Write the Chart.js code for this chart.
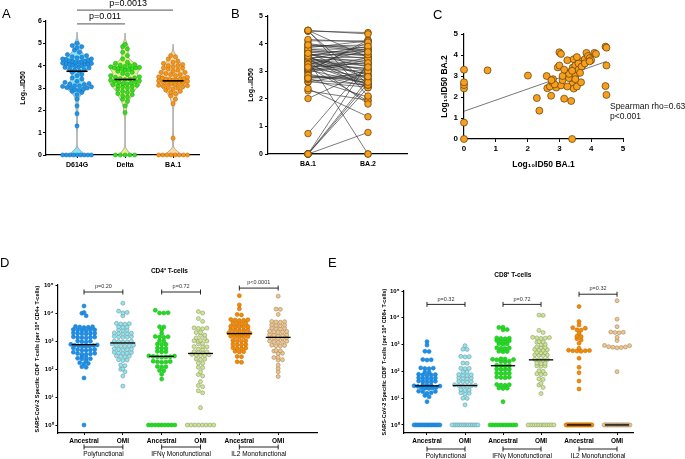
<!DOCTYPE html>
<html>
<head>
<meta charset="utf-8">
<script src="https://cdn.jsdelivr.net/npm/chart.js@4.4.1/dist/chart.umd.min.js"></script>
<style>
body { margin: 0; background: #fff; }
#wrap { position: relative; width: 685px; height: 459px; overflow: hidden; font-family: 'Liberation Sans', Arial, sans-serif; }
canvas { position: absolute; }
.lt { position: absolute; font-size: 13px; line-height: 13px; color: #000; }
</style>
</head>
<body>
<div id="wrap">
  <canvas id="cA" width="215" height="175" style="left:0;top:0"></canvas>
  <canvas id="cB" width="215" height="175" style="left:215px;top:0"></canvas>
  <canvas id="cC" width="255" height="175" style="left:430px;top:0"></canvas>
  <canvas id="cD" width="340" height="209" style="left:0;top:250px"></canvas>
  <canvas id="cE" width="345" height="209" style="left:340px;top:250px"></canvas>
  <div class="lt" style="left:2px;top:7px">A</div>
  <div class="lt" style="left:231px;top:7px">B</div>
  <div class="lt" style="left:433px;top:8px">C</div>
  <div class="lt" style="left:0;top:256px">D</div>
  <div class="lt" style="left:328px;top:256px">E</div>
</div>
<script>
// ---- panel A: log10 ID50 by variant
var variantsA = ['D614G', 'Delta', 'BA.1'];
var id50D614G = [0, 0, 0, 0, 0, 0, 0, 0, 0, 1.3, 1.85, 2.2, 2.5, 2.7,
  2.8, 2.85, 2.9, 2.92, 2.95, 3.0, 3.0, 3.02, 3.05, 3.07, 3.1, 3.1, 3.15, 3.17, 3.2, 3.25,
  3.3, 3.4, 3.45, 3.55, 3.6, 3.7,
  3.75, 3.8, 3.82, 3.85, 3.9, 3.92, 3.95, 3.98, 4.0, 4.02, 4.05, 4.05, 4.08, 4.1, 4.1, 4.12,
  4.15, 4.15, 4.18, 4.2, 4.2, 4.22, 4.25, 4.28, 4.3, 4.3, 4.35, 4.38, 4.4, 4.45, 4.5,
  4.6, 4.7, 4.8, 4.85, 4.9, 5.0];
var id50Delta = [0, 0, 0, 0, 0, 1.9, 2.2, 2.4, 2.5, 2.6, 2.65, 2.7, 2.75, 2.8, 2.85, 2.9, 2.95,
  3.0, 3.05, 3.08, 3.1, 3.12, 3.15, 3.18, 3.2, 3.22, 3.25, 3.28, 3.3, 3.32, 3.35, 3.38, 3.4, 3.42,
  3.45, 3.48, 3.5, 3.55, 3.6, 3.65, 3.7, 3.75,
  3.8, 3.82, 3.85, 3.87, 3.88, 3.9, 3.9, 3.92, 3.95, 3.97, 4.0, 4.02, 4.05, 4.1, 4.15,
  4.3, 4.45, 4.6, 4.75, 4.85, 4.95];
var id50BA1 = [0, 0, 0, 0, 0, 0, 0, 0, 0.75, 2.3, 2.5, 2.65, 2.75, 2.8, 2.85, 2.9, 2.95,
  3.0, 3.02, 3.05, 3.08, 3.1, 3.12, 3.15, 3.18, 3.2, 3.22, 3.25, 3.28, 3.3, 3.32, 3.35, 3.35,
  3.38, 3.4, 3.4, 3.42, 3.45, 3.48, 3.5,
  3.55, 3.6, 3.6, 3.65, 3.7, 3.7, 3.75, 3.8, 3.85, 3.9, 3.9, 3.95, 4.0, 4.0, 4.05, 4.1, 4.15, 4.2, 4.3, 4.4, 4.45];
var pValuesA = ['p=0.011', 'p=0.0013'];

// ---- panels B and C: paired sera, BA.1 vs BA.2 (log10 ID50)
var pairLabels = ['BA.1', 'BA.2'];
var pairedBA1 = [0, 0, 0, 0, 0, 0, 0.74, 2.01, 2.29, 2.37, 2.6, 2.62, 2.7, 2.74, 2.78, 2.8, 2.9, 2.95,
  3.0, 3.0, 3.05, 3.05, 3.1, 3.15, 3.2, 3.25, 3.3, 3.35, 3.37, 3.4, 3.4, 3.42, 3.45, 3.45,
  3.5, 3.5, 3.55, 3.6, 3.68, 3.7, 3.75, 3.8, 3.85, 3.9, 3.95, 4.0, 4.1, 4.15,
  4.45, 4.48, 4.45, 4.48, 4.48, 3.3, 3.4, 3.5, 3.6, 3.7, 3.25,
  2.85, 3.1, 3.55, 3.8, 3.95, 2.75, 3.15, 3.65];
var pairedBA2 = [0, 0.78, 2.41, 2.57, 2.7, 3.3, 3.27, 3.02, 1.95, 1.35, 3.0, 2.42, 2.5, 2.06, 2.7, 2.85, 2.45, 3.41,
  3.5, 4.13, 4.05, 2.55, 2.8, 1.92, 3.1, 3.75, 2.9, 3.2, 1.81, 0, 2.6, 3.4, 3.8, 2.4,
  3.0, 3.5, 2.5, 3.3, 2.7, 3.7, 3.55, 3.8, 4.1, 3.95, 3.85, 3.75, 4.1, 4.05,
  4.4, 4.35, 2.52, 2.1, 3.5, 3.1, 3.25, 2.85, 3.6, 3.45, 2.5,
  2.6, 3.0, 3.9, 3.6, 3.7, 2.8, 3.3, 3.15];
var fitIntercept = 1.32;
var fitSlope = 0.53;
var spearmanText = ['Spearman rho=0.63', 'p<0.001'];

// ---- panels D and E: log10 SARS-CoV-2 specific T-cells per 10^6
var cellGroups = ['Ancestral', 'OMI', 'Ancestral', 'OMI', 'Ancestral', 'OMI'];
var functionNames = ['Polyfunctional', 'IFNγ Monofunctional', 'IL2 Monofunctional'];
var logTicks = [0, 1, 2, 3, 4, 5];

var cd4PolyAnc = [0, 1.68, 2.06, 2.08, 2.2, 2.22, 2.19, 2.3, 2.38, 2.36, 2.4, 2.37, 2.45, 2.54, 2.52, 2.55, 2.56, 2.53,
  2.6, 2.68, 2.7, 2.66, 2.69, 2.67, 2.75, 2.82, 2.84, 2.8, 2.83, 2.81, 2.85, 2.86, 2.88, 2.97, 3.0, 2.99, 2.96,
  3.13, 3.12, 3.14, 3.15, 3.11, 3.13, 3.27, 3.26, 3.28, 3.25, 3.29, 3.27, 3.39, 3.38, 3.4, 3.41, 3.37, 3.39,
  3.5, 3.49, 3.51, 3.48, 3.52, 3.9, 3.99, 4.02, 4.25];
var cd4PolyOmi = [1.39, 1.75, 1.9, 1.99, 2.0, 2.14, 2.12, 2.32, 2.3, 2.33, 2.46, 2.45, 2.47, 2.44, 2.58, 2.57, 2.6, 2.56, 2.59,
  2.7, 2.71, 2.69, 2.72, 2.68, 2.83, 2.82, 2.84, 2.81, 2.85, 2.9, 2.98, 2.97, 2.99, 3.0, 2.96,
  3.15, 3.14, 3.16, 3.13, 3.17, 3.27, 3.26, 3.28, 3.25, 3.29, 3.39, 3.38, 3.4, 3.51, 3.5, 3.49,
  3.63, 3.62, 3.61, 3.6, 3.9, 4.0, 4.02, 4.07, 4.35];
var cd4IfnAnc = [0, 0, 0, 0, 0, 0, 0, 0, 0, 1.64, 1.81, 1.94, 1.95, 2.08, 2.07, 2.09, 2.26, 2.25, 2.27, 2.24, 2.28,
  2.44, 2.45, 2.43, 2.46, 2.42, 2.47, 2.44, 2.62, 2.61, 2.63, 2.74, 2.75, 2.73, 2.88, 2.87, 2.89, 3.0, 3.01,
  3.15, 3.14, 3.16, 3.13, 3.27, 3.39, 3.51, 3.5, 4.0, 4.0, 4.01, 4.1];
var cd4IfnOmi = [0, 0, 0, 0, 0, 0, 0, 0, 0.62, 1.15, 1.22, 1.37, 1.41, 1.55, 1.75, 1.8, 1.9, 2.05, 2.06, 2.2, 2.21,
  2.35, 2.36, 2.34, 2.5, 2.49, 2.51, 2.52, 2.48, 2.6, 2.61, 2.59, 2.62, 2.7, 2.71, 2.8, 2.81, 2.79, 2.9, 2.91,
  3.0, 3.01, 2.99, 3.02, 3.1, 3.11, 3.2, 3.21, 3.3, 3.31, 3.45, 3.44, 3.46, 3.47, 3.7, 3.8, 4.0, 4.05];
var cd4Il2Anc = [2.24, 2.26, 2.44, 2.45, 2.62, 2.61, 2.63, 2.74, 2.75, 2.73, 2.76, 2.88, 2.87, 2.89, 2.86,
  3.0, 3.01, 2.99, 3.02, 3.15, 3.14, 3.16, 3.13, 3.17, 3.27, 3.26, 3.28, 3.25, 3.29, 3.24,
  3.39, 3.38, 3.4, 3.41, 3.37, 3.51, 3.5, 3.52, 3.49, 3.53, 3.63, 3.62, 3.64, 3.61,
  3.75, 3.74, 3.76, 3.73, 3.77, 3.93, 3.95, 4.15, 4.29, 4.62];
var cd4Il2Omi = [1.73, 1.9, 2.02, 2.14, 2.32, 2.33, 2.42, 2.41, 2.56, 2.55, 2.65, 2.64, 2.66, 2.83, 2.82, 2.84, 2.85,
  2.98, 2.97, 2.99, 3.0, 2.96, 3.1, 3.11, 3.09, 3.12, 3.13, 3.21, 3.2, 3.22, 3.23, 3.19,
  3.33, 3.32, 3.34, 3.35, 3.31, 3.45, 3.44, 3.46, 3.47, 3.57, 3.56, 3.58, 3.55, 3.69, 3.68, 3.7, 3.67,
  3.95, 4.13, 4.14, 4.6];
var cd4PValues = ['p=0.20', 'p=0.72', 'p<0.0001'];

var cd8PolyAnc = [0, 0, 0, 0, 0, 0, 0, 0, 0, 0, 0, 0, 0, 0, 0, 0,
  0.87, 1.05, 1.1, 1.18, 1.2, 1.25, 1.26, 1.24, 1.38, 1.37, 1.39, 1.4, 1.36, 1.46, 1.47, 1.45, 1.48, 1.44, 1.5,
  1.62, 1.61, 1.63, 1.6, 1.64, 1.74, 1.75, 1.73, 1.76, 1.72, 1.87, 1.86, 1.88, 1.89, 1.85, 1.98, 1.97,
  2.11, 2.12, 2.1, 2.13, 2.43, 2.42, 2.44, 2.74, 2.75, 2.98, 3.11];
var cd8PolyOmi = [0, 0, 0, 0, 0, 0, 0, 0, 0, 0, 0, 0, 0, 0, 0,
  0.75, 0.99, 1.0, 1.15, 1.2, 1.18, 1.3, 1.32, 1.29, 1.46, 1.47, 1.45, 1.48, 1.44, 1.5, 1.62, 1.61, 1.63, 1.6,
  1.74, 1.75, 1.73, 1.76, 1.86, 1.87, 1.88, 1.85, 1.98, 1.97, 2.11, 2.12, 2.1, 2.3, 2.31, 2.55, 2.56, 2.54,
  2.82, 2.83, 2.96];
var cd8IfnAnc = [0, 0, 0, 0, 0, 0, 0, 0, 0, 0, 0,
  0.87, 1.37, 1.38, 1.36, 1.49, 1.5, 1.48, 1.51, 1.78, 1.77, 1.79, 1.76, 1.93, 1.92, 1.94, 1.91,
  2.08, 2.07, 2.09, 2.06, 2.21, 2.2, 2.22, 2.23, 2.37, 2.36, 2.38, 2.45, 2.46, 2.44, 2.47, 2.43,
  2.74, 2.73, 2.75, 2.86, 2.87, 2.85, 2.88, 3.02, 3.01, 3.03, 3.13, 3.12, 3.14, 3.15,
  3.23, 3.22, 3.24, 3.25, 3.55, 3.56, 3.64, 3.65];
var cd8IfnOmi = [0, 0, 0, 0, 0, 0, 0, 0, 0, 0, 0, 0,
  1.17, 1.4, 1.49, 1.55, 1.7, 1.72, 1.9, 1.88, 1.91, 2.0, 2.02, 2.2, 2.21, 2.19, 2.3, 2.31, 2.29,
  2.43, 2.44, 2.42, 2.45, 2.6, 2.61, 2.59, 2.62, 2.7, 2.71, 2.69, 2.8, 2.81, 2.79, 2.82, 2.9, 2.91, 2.89,
  3.0, 3.01, 3.1, 3.11, 3.09, 3.25, 3.26, 3.24, 3.27, 3.23, 3.45, 3.53, 4.09, 4.1];
var cd8Il2Anc = [0, 0, 0, 0, 0, 0, 0, 0, 0, 0, 0, 0, 0, 0, 0, 0, 0, 0, 0, 0, 0, 0, 0, 0, 0, 0, 0, 0, 0, 0,
  1.34, 1.64, 1.95, 2.15, 2.49, 2.77, 2.78, 2.76, 2.79, 2.75, 2.77, 2.86, 3.05, 3.17, 3.22,
  3.3, 3.31, 3.42, 3.54, 3.55, 3.61, 3.63, 3.73, 3.86, 4.42];
var cd8Il2Omi = [0, 0, 0, 0, 0, 0, 0, 0, 0, 0, 0, 0, 0, 0, 0, 0, 0, 0, 0, 0, 0, 0,
  1.99, 2.9, 2.89, 2.91, 2.92, 2.88, 2.96, 2.97, 3.15, 3.27, 3.46, 3.45, 3.47, 3.44, 3.67, 3.95, 4.64];
var cd8PValues = ['p=0.32', 'p=0.72', 'p=0.32'];

// ---- styles
var FONT = "'Liberation Sans', Arial, sans-serif";
var violinStyles = [
  { fill: '#86e3f6', pt: '#2196e8', ptLine: '#1466b0' },
  { fill: '#e6f08e', pt: '#35df20', ptLine: '#1f9e12' },
  { fill: '#fbd7a2', pt: '#f7961a', ptLine: '#b56806' }
];
var cellStyles = [
  { fill: '#1e8fe6', line: '#1a7dcc' },
  { fill: '#88e8f3', line: '#7e9499' },
  { fill: '#22dc22', line: '#1cb91c' },
  { fill: '#cfe78c', line: '#8c9877' },
  { fill: '#f28a0a', line: '#c96f00' },
  { fill: '#f7c582', line: '#998975' }
];
var orangePt = '#f8a01c', orangeLine = '#5c3b0e';
var sup = ['⁰', '¹', '²', '³', '⁴', '⁵'];

Chart.defaults.font.family = FONT;
Chart.defaults.color = '#000';
Chart.defaults.animation = false;
Chart.defaults.plugins.legend.display = false;
Chart.defaults.plugins.tooltip.enabled = false;

function median(arr) {
  var s = arr.slice().sort(function (a, b) { return a - b; });
  var n = s.length;
  return n % 2 ? s[(n - 1) / 2] : (s[n / 2 - 1] + s[n / 2]) / 2;
}

// GraphPad-like scatter: close values share a row, each row spread around the centre
function swarm(vals, center, bin, dx, maxHalf) {
  var sorted = vals.slice().sort(function (a, b) { return a - b; });
  var rows = [], cur = null;
  sorted.forEach(function (v) {
    if (!cur || v - cur[0] > bin) { cur = [v]; rows.push(cur); } else cur.push(v);
  });
  var pts = [];
  rows.forEach(function (r) {
    var n = r.length;
    var step = dx;
    if (n > 1 && (n - 1) * step > 2 * maxHalf) step = 2 * maxHalf / (n - 1);
    var slots = [];
    for (var i = 0; i < n; i++) slots.push(i - (n - 1) / 2);
    slots.sort(function (a, b) { return Math.abs(a) - Math.abs(b) || b - a; });
    r.forEach(function (v, i) { pts.push({ x: center + slots[i] * step, y: v }); });
  });
  return pts;
}

function axis(o) {
  var a = {
    type: o.type || 'linear',
    min: o.min, max: o.max,
    grid: { drawOnChartArea: false, drawTicks: true, tickLength: o.tick, color: '#000', lineWidth: 1 },
    border: { display: true, color: '#000', width: 1.2 },
    ticks: { color: '#000', font: { size: o.font, weight: 'bold' }, padding: o.pad, autoSkip: false, maxRotation: 0 },
    title: o.title ? { display: true, text: o.title, color: '#000', font: { size: o.titleSize, weight: 'bold' }, padding: o.titlePad } : { display: false },
    afterFit: function (s) {
      if (o.width !== undefined) s.width = o.width;
      if (o.height !== undefined) s.height = o.height;
    }
  };
  if (o.label) a.ticks.callback = o.label;
  if (o.ticks) a.afterBuildTicks = function (s) { s.ticks = o.ticks.map(function (v) { return { value: v }; }); };
  return a;
}

var annot = {
  id: 'annot',
  beforeDatasetsDraw: function (chart, args, o) {
    if (!o.violins) return;
    var ctx = chart.ctx, x = chart.scales.x, y = chart.scales.y;
    o.violins.forEach(function (v) {
      var top = Math.max.apply(null, v.values) + 3 * v.bw;
      var ys = [];
      for (var t = 0; t <= top; t += 0.02) ys.push(t);
      var dens = ys.map(function (t) {
        return v.values.reduce(function (s, d) { var u = (t - d) / v.bw; return s + Math.exp(-0.5 * u * u); }, 0);
      });
      var dmax = Math.max.apply(null, dens);
      ctx.save();
      ctx.beginPath();
      ys.forEach(function (t, i) {
        var px = x.getPixelForValue(v.center + dens[i] / dmax * v.half), py = y.getPixelForValue(t);
        if (i) ctx.lineTo(px, py); else ctx.moveTo(px, py);
      });
      for (var i = ys.length - 1; i >= 0; i--) {
        ctx.lineTo(x.getPixelForValue(v.center - dens[i] / dmax * v.half), y.getPixelForValue(ys[i]));
      }
      ctx.closePath();
      ctx.fillStyle = v.fill;
      ctx.fill();
      ctx.strokeStyle = '#8e8e8e';
      ctx.lineWidth = 0.8;
      ctx.stroke();
      ctx.restore();
    });
  },
  afterDatasetsDraw: function (chart, args, o) {
    var ctx = chart.ctx, x = chart.scales.x, y = chart.scales.y;
    ctx.save();
    (o.brackets || []).forEach(function (b) {
      var x1 = x.getPixelForValue(b.x1), x2 = x.getPixelForValue(b.x2);
      var py = b.py !== undefined ? b.py : y.getPixelForValue(b.y);
      ctx.strokeStyle = b.color;
      ctx.lineWidth = b.width;
      ctx.beginPath();
      ctx.moveTo(x1, py); ctx.lineTo(x2, py);
      if (b.tick) {
        ctx.moveTo(x1, py - b.tick); ctx.lineTo(x1, py + b.tick);
        ctx.moveTo(x2, py - b.tick); ctx.lineTo(x2, py + b.tick);
      }
      ctx.stroke();
      if (b.label) {
        ctx.font = b.font;
        ctx.fillStyle = b.textColor || '#000';
        ctx.textAlign = 'center';
        ctx.textBaseline = 'bottom';
        ctx.fillText(b.label, (x1 + x2) / 2 + (b.dx || 0), py - b.gap);
      }
    });
    (o.texts || []).forEach(function (t) {
      var px = x.getPixelForValue(t.x);
      var py = t.py !== undefined ? t.py : y.getPixelForValue(t.y);
      ctx.font = t.font;
      ctx.fillStyle = t.color || '#000';
      ctx.textAlign = t.align || 'center';
      ctx.textBaseline = 'middle';
      ctx.fillText(t.text, px, py);
    });
    ctx.restore();
  }
};

// ---------- Panel A
(function () {
  var groups = [id50D614G, id50Delta, id50BA1];
  var datasets = [];
  groups.forEach(function (g, i) {
    var m = median(g);
    datasets.push({ data: [{ x: i - 0.22, y: m }, { x: i + 0.22, y: m }], showLine: true, borderColor: '#000', borderWidth: 1.6, pointRadius: 0, order: 0, clip: false });
    datasets.push({ data: swarm(g, i, 0.17, 0.1, 0.3), pointRadius: 2.1, backgroundColor: violinStyles[i].pt, borderColor: violinStyles[i].ptLine, borderWidth: 0.5, order: 1, clip: false });
  });
  new Chart(document.getElementById('cA'), {
    type: 'scatter',
    data: { datasets: datasets },
    options: {
      responsive: false, devicePixelRatio: 1,
      layout: { padding: { top: 21, right: 16, bottom: 0, left: 0 } },
      scales: {
        x: axis({ min: -0.646, max: 2.54, tick: 3, font: 7, pad: 3, height: 20, ticks: [0, 1, 2],
          label: function (v, i) { return variantsA[i]; } }),
        y: axis({ min: 0, max: 6, tick: 3, font: 7, pad: 1, width: 46, ticks: [0, 1, 2, 3, 4, 5, 6],
          title: 'Log₁₀ID50', titleSize: 7, titlePad: { top: 19, bottom: 0 } })
      },
      plugins: {
        annot: {
          violins: groups.map(function (g, i) { return { values: g, center: i, bw: 0.17, half: 0.32, fill: violinStyles[i].fill }; }),
          brackets: [
            { x1: 0, x2: 1, y: 5.87, color: '#777', width: 1.3, label: pValuesA[0], font: '9px ' + FONT, gap: 3, dx: 4 },
            { x1: 0, x2: 2, y: 6.49, color: '#777', width: 1.3, label: pValuesA[1], font: '9px ' + FONT, gap: 2, dx: 3 }
          ]
        }
      }
    },
    plugins: [annot]
  });
})();

// ---------- Panel B
(function () {
  var datasets = [];
  datasets.push({
    data: pairedBA1.map(function (v) { return { x: 0, y: v }; }).concat(pairedBA2.map(function (v) { return { x: 1, y: v }; })),
    pointRadius: 3.3, backgroundColor: orangePt, borderColor: orangeLine, borderWidth: 0.7, order: 0, clip: false
  });
  pairedBA1.forEach(function (a, i) {
    datasets.push({ data: [{ x: 0, y: a }, { x: 1, y: pairedBA2[i] }], showLine: true, borderColor: '#333', borderWidth: 0.65, pointRadius: 0, order: 1, clip: false });
  });
  new Chart(document.getElementById('cB'), {
    type: 'scatter',
    data: { datasets: datasets },
    options: {
      responsive: false, devicePixelRatio: 1,
      layout: { padding: { top: 16, right: 23, bottom: 0, left: 0 } },
      scales: {
        x: axis({ min: -0.667, max: 1.65, tick: 3, font: 7, pad: 3, height: 21, ticks: [0, 1],
          label: function (v, i) { return pairLabels[i]; } }),
        y: axis({ min: 0, max: 5, tick: 3, font: 7, pad: 2, width: 53, ticks: [0, 1, 2, 3, 4, 5],
          title: 'Log₁₀ID50', titleSize: 7, titlePad: { top: 32, bottom: 0 } })
      },
      plugins: { annot: {} }
    },
    plugins: [annot]
  });
})();

// ---------- Panel C
(function () {
  var xmax = Math.max.apply(null, pairedBA1);
  new Chart(document.getElementById('cC'), {
    type: 'scatter',
    data: {
      datasets: [
        { data: pairedBA1.map(function (v, i) { return { x: v, y: pairedBA2[i] }; }), pointRadius: 3.5, backgroundColor: orangePt, borderColor: orangeLine, borderWidth: 0.7, order: 0, clip: false },
        { data: [{ x: 0, y: fitIntercept }, { x: xmax, y: fitIntercept + fitSlope * xmax }], showLine: true, borderColor: '#555', borderWidth: 0.8, pointRadius: 0, order: 1, clip: false }
      ]
    },
    options: {
      responsive: false, devicePixelRatio: 1,
      layout: { padding: { top: 34, right: 62, bottom: 0, left: 0 } },
      scales: {
        x: axis({ min: 0, max: 5, tick: 3, font: 8, pad: 2, height: 36, ticks: [0, 1, 2, 3, 4, 5],
          title: 'Log₁₀ID50 BA.1', titleSize: 8.5, titlePad: { top: 0, bottom: 5 } }),
        y: axis({ min: 0, max: 5, tick: 3, font: 8, pad: 3, width: 34, ticks: [0, 1, 2, 3, 4, 5],
          title: 'Log₁₀ID50 BA.2', titleSize: 8.5, titlePad: { top: 10, bottom: 0 } })
      },
      plugins: {
        annot: {
          texts: [
            { x: 4.59, y: 1.52, text: spearmanText[0], font: '8.5px ' + FONT, align: 'left', color: '#111' },
            { x: 4.59, y: 1.05, text: spearmanText[1], font: '8.5px ' + FONT, align: 'left', color: '#111' }
          ]
        }
      }
    },
    plugins: [annot]
  });
})();

// ---------- Panels D and E
function cellChart(id, groups, pvals, o) {
  var datasets = [];
  groups.forEach(function (g, i) {
    var m = Math.pow(10, median(g));
    datasets.push({ data: [{ x: i - 0.32, y: m }, { x: i + 0.32, y: m }], showLine: true, borderColor: '#000', borderWidth: 1.3, pointRadius: 0, order: 0, clip: false });
    datasets.push({
      data: swarm(g, i, 0.1, 0.11, 0.34).map(function (p) { return { x: p.x, y: Math.pow(10, p.y) }; }),
      pointRadius: 2, backgroundColor: cellStyles[i].fill, borderColor: cellStyles[i].line, borderWidth: 0.6, order: 1, clip: false
    });
  });
  var brackets = pvals.map(function (p, k) {
    return { x1: 2 * k, x2: 2 * k + 1, y: Math.pow(10, o.pY[k]), color: '#111', width: 0.9, tick: 2.5, label: p, font: '5.5px ' + FONT, textColor: '#333', gap: 2.5 };
  });
  var texts = [];
  functionNames.forEach(function (f, k) {
    brackets.push({ x1: 2 * k, x2: 2 * k + 1, py: o.groupY, color: '#111', width: 0.9, tick: 2.5 });
    texts.push({ x: 2 * k + 0.5, py: o.groupY + 7.5, text: f, font: '6.5px ' + FONT });
  });
  texts.push({ x: o.titleX, py: o.titleY, text: o.title, font: 'bold 6.5px ' + FONT });
  new Chart(document.getElementById(id), {
    type: 'scatter',
    data: { datasets: datasets },
    options: {
      responsive: false, devicePixelRatio: 1,
      layout: { padding: { top: o.top, right: o.right, bottom: 0, left: 0 } },
      scales: {
        x: axis({ min: o.xMin, max: o.xMax, tick: 2, font: 6.5, pad: 2, height: 26, ticks: [0, 1, 2, 3, 4, 5],
          label: function (v, i) { return cellGroups[i]; } }),
        y: axis({ type: 'logarithmic', min: o.yMin, max: 1e5, tick: 2.5, font: 6, pad: 2, width: o.yWidth,
          ticks: logTicks.map(function (e) { return Math.pow(10, e); }),
          label: function (v) { return '10' + sup[Math.round(Math.log10(v))]; },
          title: o.yTitle, titleSize: 5.5, titlePad: { top: o.yTitlePad, bottom: 0 } })
      },
      plugins: { annot: { brackets: brackets, texts: texts } }
    },
    plugins: [annot]
  });
}

cellChart('cD', [cd4PolyAnc, cd4PolyOmi, cd4IfnAnc, cd4IfnOmi, cd4Il2Anc, cd4Il2Omi], cd4PValues, {
  top: 35, right: 23, yWidth: 58, yMin: 0.518, xMin: -0.67, xMax: 6.0,
  pY: [4.75, 4.75, 4.89], groupY: 197, titleX: 2.2, titleY: 21,
  title: 'CD4⁺ T-cells', yTitle: 'SARS-CoV-2 Specific CD4⁺ T-cells (per 10⁶ CD4+ T-cells)', yTitlePad: 33.7
});
cellChart('cE', [cd8PolyAnc, cd8PolyOmi, cd8IfnAnc, cd8IfnOmi, cd8Il2Anc, cd8Il2Omi], cd8PValues, {
  top: 41, right: 52, yWidth: 64, yMin: 0.5, xMin: -0.605, xMax: 5.42,
  pY: [4.5, 4.5, 4.88], groupY: 199, titleX: 2.26, titleY: 25,
  title: 'CD8⁺ T-cells', yTitle: 'SARS-CoV-2 Specific CD8⁺ T-cells (per 10⁶ CD8+ T-cells)', yTitlePad: 41.2
});
</script>
</body>
</html>
